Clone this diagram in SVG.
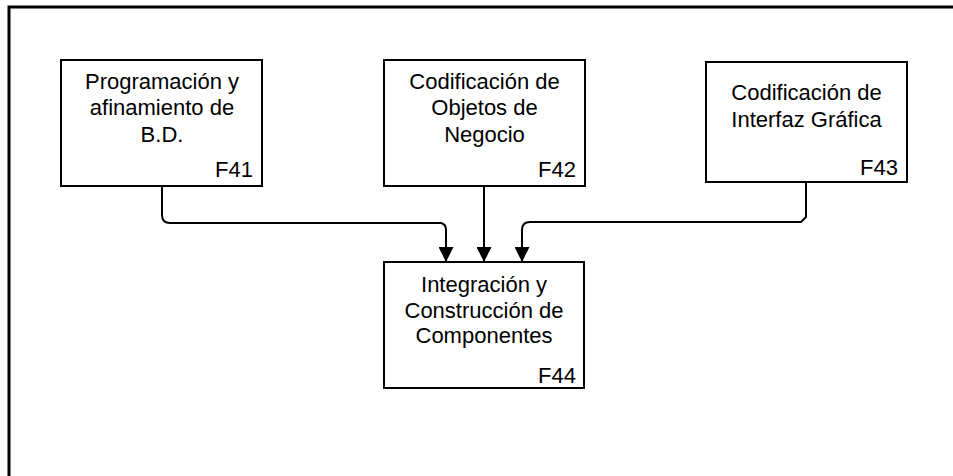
<svg xmlns="http://www.w3.org/2000/svg" width="953" height="476" viewBox="0 0 953 476">
<style>
.box{fill:#fff;stroke:#000;stroke-width:2}
.t{font-family:"Liberation Sans",Arial,sans-serif;font-size:22px;fill:#000;text-anchor:middle}
.id{font-family:"Liberation Sans",Arial,sans-serif;font-size:22px;fill:#000;text-anchor:end}
.c{fill:none;stroke:#000;stroke-width:2;marker-end:url(#ah)}
</style>
<defs>
<marker id="ah" viewBox="0 0 15 15" refX="15" refY="7.5" markerWidth="15" markerHeight="15" markerUnits="userSpaceOnUse" orient="auto">
<path d="M0,0 L15,7.5 L0,15 z" fill="#000"/>
</marker>
</defs>
<rect width="953" height="476" fill="#fff"/>
<path d="M9,476 V7 H953" fill="none" stroke="#000" stroke-width="3"/>
<g id="connectors">
<path class="c" d="M162,186 V215 Q162,223 170,223 H441 Q446,224 446,230 V262"/>
<path class="c" d="M484,186 V262"/>
<path class="c" d="M806,182 V217 L801,222 H530 Q522,222 522,230 V262"/>
</g>
<g id="F41">
<rect class="box" x="61" y="60" width="201" height="126"/>
<text class="t" x="162" y="89">Programación  y</text>
<text class="t" x="162" y="115">afinamiento de</text>
<text class="t" x="162" y="141.5">B.D.</text>
<text class="id" x="253" y="177">F41</text>
</g>
<g id="F42">
<rect class="box" x="384" y="60" width="201" height="126"/>
<text class="t" x="484.5" y="88.5">Codificación de</text>
<text class="t" x="484.5" y="115">Objetos de</text>
<text class="t" x="484.5" y="141.5">Negocio</text>
<text class="id" x="576" y="177">F42</text>
</g>
<g id="F43">
<rect class="box" x="706" y="62" width="201" height="120"/>
<text class="t" x="806.5" y="100">Codificación de</text>
<text class="t" x="806.5" y="126.5">Interfaz Gráfica</text>
<text class="id" x="898" y="175">F43</text>
</g>
<g id="F44">
<rect class="box" x="384" y="262" width="200" height="126"/>
<text class="t" x="484" y="291.5">Integración y</text>
<text class="t" x="484" y="318">Construcción de</text>
<text class="t" x="484" y="343">Componentes</text>
<text class="id" x="576" y="383">F44</text>
</g>
</svg>
